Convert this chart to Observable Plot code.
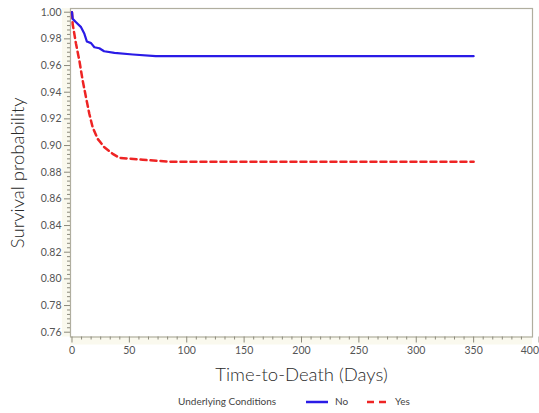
<!DOCTYPE html>
<html>
<head>
<meta charset="utf-8">
<script src="https://cdn.jsdelivr.net/npm/d3@7"></script>
<script src="https://cdn.jsdelivr.net/npm/@observablehq/plot@0.6"></script>
<style>
  body { margin: 0; background: #fff; font-family: Lato, "Open Sans", sans-serif; }
  #legend { position: relative; width: 539px; height: 23px; font-size: 10px; color: #444; }
  #legend span, #legend svg { position: absolute; }
</style>
</head>
<body>
<div id="chart"></div>
<div id="legend"></div>
<script>
// Data
const daysNo = [0, 0.6, 3.5, 7.9, 10.8, 13, 16.6, 19.5, 23.8, 28, 37, 53, 73, 350];
const survNo = [1.000, 0.995, 0.9925, 0.9888, 0.9838, 0.978, 0.9768, 0.9737, 0.973, 0.9707, 0.9695, 0.9683, 0.967, 0.967];
const daysYes = [0, 0.6, 3.5, 6.4, 9.3, 12.2, 15.1, 18, 22.4, 28.2, 35.5, 41.3, 61.7, 87.9, 350];
const survYes = [1.0, 0.991, 0.9763, 0.9638, 0.9488, 0.9362, 0.9238, 0.9137, 0.905, 0.8987, 0.8938, 0.8908, 0.8893, 0.8878, 0.8878];
const groups = ["No", "Yes"];
const colors = ["#2a1be6", "#ee2424"];
const xTicks = [0, 50, 100, 150, 200, 250, 300, 350];
const xLastTick = [400];
const yTicks = [0.76, 0.78, 0.80, 0.82, 0.84, 0.86, 0.88, 0.90, 0.92, 0.94, 0.96, 0.98, 1.00];
const xLabel = "Time-to-Death (Days)";
const yLabel = "Survival probability";
const legendTitle = "Underlying Conditions";

const noData = daysNo.map((d, i) => ({t: d, s: survNo[i]}));
const yesData = daysYes.map((d, i) => ({t: d, s: survYes[i]}));
const xMinor = d3.range(0, 48).map(i => i * 50 / 6).filter((v, i) => i % 6 !== 0);
const yMinor = d3.range(0, 73).map(i => +(0.76 + i * 0.02 / 6).toFixed(5)).filter((v, i) => i % 6 !== 0 && v <= 1.0);

const axisColor = "#8c8a7c";
const chart = Plot.plot({
  width: 539,
  height: 390,
  marginLeft: 70,
  marginRight: 7,
  marginTop: 8,
  marginBottom: 53.5,
  style: {fontFamily: "Lato, 'Open Sans', sans-serif", background: "transparent"},
  x: {domain: [-1.3, 401.3]},
  y: {domain: [0.7564, 1.00278]},
  marks: [
    // cream tick bands
    Plot.rect([0], {x1: -1.3, x2: 401.3, y1: 0.7564, y2: 0.7564, fill: "#faf9ee", insetBottom: -8}),
    Plot.rect([0], {x1: -1.3, x2: -1.3, y1: 0.7564, y2: 1.00278, fill: "#faf9ee", insetLeft: -8}),
    Plot.frame({stroke: "#b0ae9f", strokeWidth: 1.2}),
    Plot.axisX({ticks: xTicks, tickSize: 6, tickFormat: d => d, fontSize: 10.5, color: "#555", stroke: axisColor, tickPadding: 4, label: null}),
    Plot.axisX({ticks: xLastTick, tickSize: 6, tickFormat: d => d, fontSize: 10.5, color: "#555", stroke: axisColor, tickPadding: 4, label: null, textAnchor: "end", dx: 8}),
    Plot.axisX({ticks: xMinor, tickSize: 3, tickFormat: () => "", stroke: axisColor, label: null}),
    Plot.axisY({ticks: yTicks, tickSize: 6, tickFormat: d3.format(".2f"), fontSize: 10.5, color: "#555", stroke: axisColor, tickPadding: 3, label: null}),
    Plot.axisY({ticks: yMinor, tickSize: 3, tickFormat: () => "", stroke: axisColor, label: null}),
    Plot.line(yesData, {x: "t", y: "s", stroke: colors[1], strokeWidth: 2.5, strokeDasharray: "6,4"}),
    Plot.line(noData, {x: "t", y: "s", stroke: colors[0], strokeWidth: 2.2}),
    Plot.text([xLabel], {text: d => d, frameAnchor: "bottom", dy: 44, fontSize: 18.5, fontWeight: 300, fill: "#2a2a2a"}),
    Plot.text([yLabel], {text: d => d, frameAnchor: "left", textAnchor: "middle", rotate: -90, dx: -52, fontSize: 18.5, fontWeight: 300, fill: "#2a2a2a"})
  ]
});
document.getElementById("chart").appendChild(chart);

// Legend
const lg = document.getElementById("legend");
const title = document.createElement("span");
title.textContent = legendTitle;
title.style.left = "178px"; title.style.top = "5px";
lg.appendChild(title);
const swX = [306, 367];
const lbX = [335, 395];
groups.forEach((g, i) => {
  const s = d3.create("svg").attr("width", 24).attr("height", 10)
    .style("left", swX[i] + "px").style("top", "7px");
  s.append("line").attr("x1", 0).attr("x2", 22).attr("y1", 5).attr("y2", 5)
    .attr("stroke", colors[i]).attr("stroke-width", 2.5)
    .attr("stroke-dasharray", i === 1 ? "7,5" : null);
  lg.appendChild(s.node());
  const t = document.createElement("span");
  t.textContent = g;
  t.style.left = lbX[i] + "px"; t.style.top = "5px";
  lg.appendChild(t);
});
</script>
</body>
</html>
